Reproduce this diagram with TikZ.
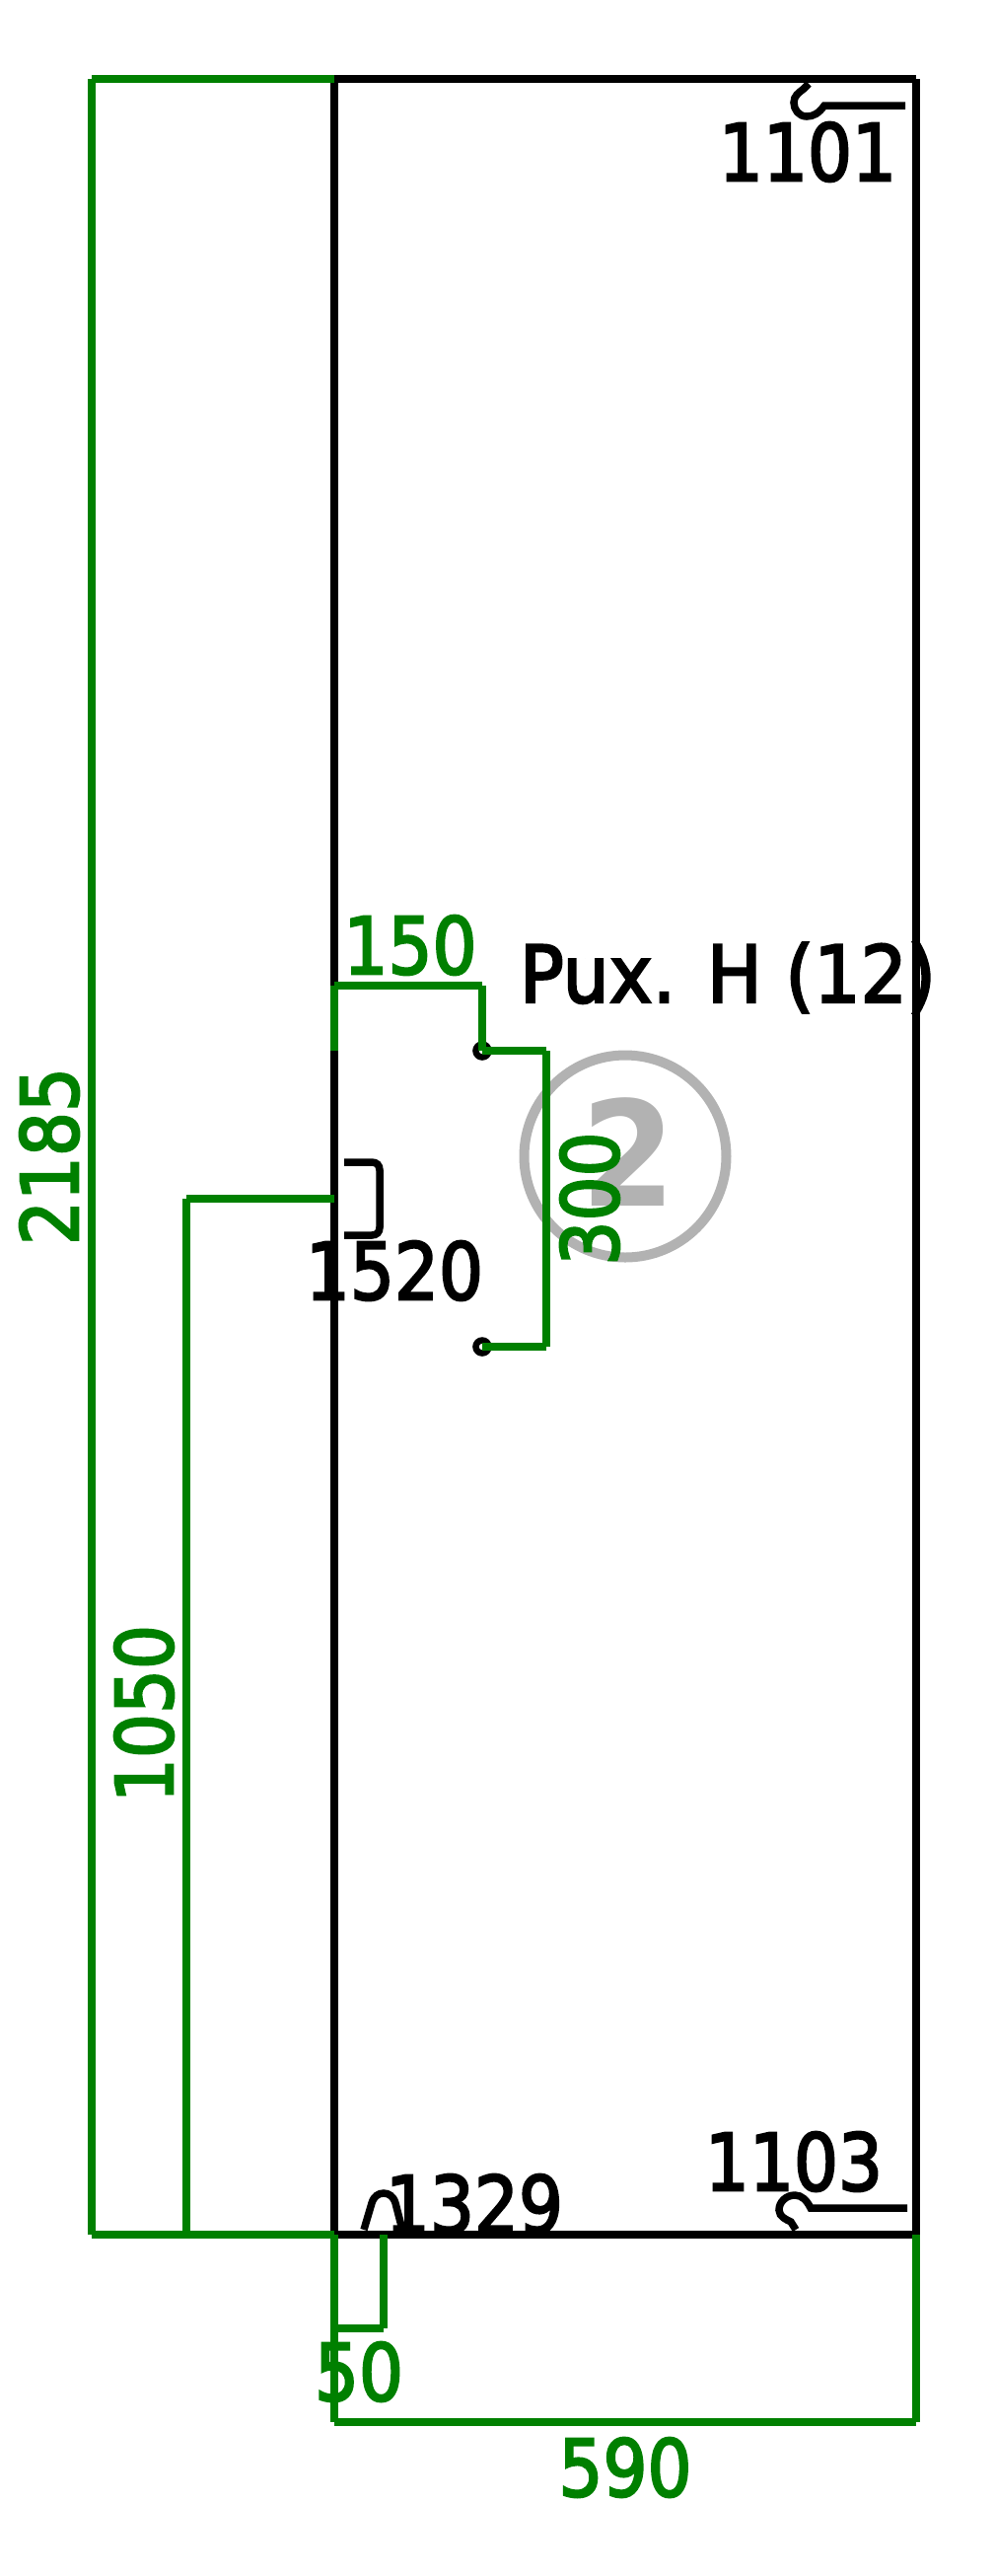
\documentclass[tikz,border=0pt]{standalone}
\usepackage{fontspec}
\setmainfont{DejaVu Sans}
\newfontfamily\plotfont{DejaVu Sans}[FakeBold=3]
\definecolor{plotgreen}{RGB}{0,128,0}
\definecolor{markgray}{gray}{.7}
\tikzset{
    part/.style={draw=black, line width=7.5pt},
    dim/.style={draw=plotgreen, line width=7.5pt},
    label/.style={inner sep=0pt, transform shape, xscale=.885, font=\plotfont\fontsize{80}{80}\selectfont},
    dimlabel/.style={label, text=plotgreen},
    hole/.style={circle, draw=black, line width=6.5pt, minimum size=13pt, inner sep=0pt},
}
\begin{document}
\begin{tikzpicture}[x=1pt,y=-1pt]
            \useasboundingbox (0,0) rectangle (1009,2611);

            % Nodes
            \coordinate (tl) at (339,80);
            \coordinate (tr) at (929,80);
            \coordinate (bl) at (339,2265);
            \coordinate (br) at (929,2265);
            \node[hole] (holea) at (489,1065) {};
            \node[hole] (holeb) at (489,1365) {};
            \node[circle, draw=markgray, line width=10pt, minimum size=205pt, inner sep=0pt] (circ) at (634,1172) {};
            \node[text=markgray, inner sep=0pt, font=\fontsize{148}{148}\bfseries\selectfont, transform shape, xscale=.93] (circtxt) at (637,1168) {2};

            \coordinate (lefta) at (93,80);
            \coordinate (leftb) at (93,2265);
            \coordinate (midb) at (189,2265);
            \coordinate (mida) at (189,1215);
            \coordinate (midc) at (339,1215);
            \coordinate (upa) at (339,1065);
            \coordinate (upb) at (339,999);
            \coordinate (upc) at (489,999);
            \coordinate (rgta) at (554,1065);
            \coordinate (rgtb) at (554,1365);
            \coordinate (lowa) at (389,2265);
            \coordinate (lowb) at (389,2360);
            \coordinate (lowc) at (339,2360);
            \coordinate (lowd) at (339,2455);
            \coordinate (lowe) at (929,2455);

            \node[label] (t1101) at (819,154) {1101};
            \node[label] (t1103) at (805,2191) {1103};
            \node[label] (t1329) at (481,2234) {1329};
            \node[label] (t1520) at (400,1288) {1520};
            \node[label, xscale=1.05, anchor=base] (tpux) at (738,1016) {Pux. H (12)};

            % Connections
            \draw[part] (tl) -- (tr) (tr) -- (br) (br) -- (bl) (bl) -- (tl);
            \draw[dim] (tl) -- (lefta) (lefta) -- (leftb) (leftb) -- (bl);
            \draw[dim] (mida) -- (midb) (mida) -- (midc);
            \draw[dim] (upa) -- (upb) (upb) -- (upc) (upc) -- (holea.center);
            \draw[dim] (holea.center) -- (rgta) (rgta) -- (rgtb) (rgtb) -- (holeb.center);
            \draw[dim] (bl) -- (lowd) (lowd) -- (lowe) (lowe) -- (br);
            \draw[dim] (lowa) -- (lowb) (lowb) -- (lowc);

            % Hooks
            \draw[part] (918,107) -- (836,107) .. controls (830,115) and (825,118) .. (818,118) .. controls (810,118) and (805,111) .. (805,104) .. controls (805,97) and (810,94) .. (815,90) -- (820,85);
            \draw[part] (920,2238) -- (822,2238) .. controls (818,2230) and (813,2225) .. (806,2225) .. controls (797,2225) and (790,2232) .. (790,2240) .. controls (790,2247) and (798,2250) .. (802,2252) -- (807,2260);
            \draw[part] (349,1178) -- (377,1178) .. controls (382,1178) and (385,1181) .. (385,1186) -- (385,1244) .. controls (385,1249) and (382,1252) .. (377,1252) -- (349,1252);
            \draw[part] (369,2260) -- (377,2233) .. controls (379,2226) and (384,2223) .. (389,2223) .. controls (394,2223) and (399,2226) .. (401,2233) -- (408,2260);

            % Dimension labels
            \node[dimlabel] (d150) at (416,958) {150};
            \node[dimlabel] (d50) at (364,2404) {50};
            \node[dimlabel] (d590) at (634,2501) {590};
            \node[rotate=90, dimlabel] (d2185) at (50,1172) {2185};
            \node[rotate=90, dimlabel] (d1050) at (146,1737) {1050};
            \node[rotate=90, dimlabel] (d300) at (598,1215) {300};
        \end{tikzpicture}
\end{document}
